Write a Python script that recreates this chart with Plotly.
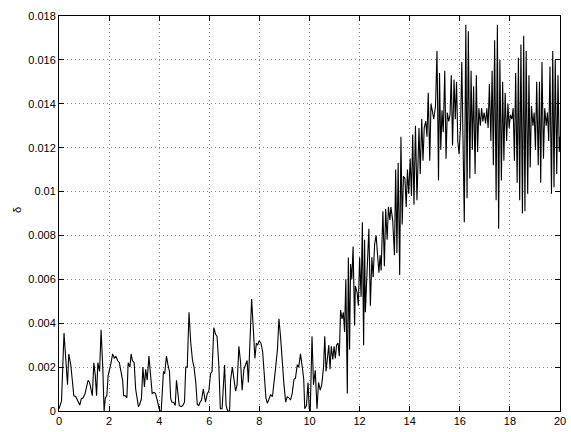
import plotly.graph_objects as go

# time axis values
t_vals = [
    0.00, 0.10, 0.20, 0.30, 0.34, 0.39, 0.47, 0.54, 0.59, 0.67, 0.74, 0.83, 0.89, 0.96,
    1.03, 1.09, 1.16, 1.22, 1.29, 1.33, 1.39, 1.45, 1.50, 1.55, 1.62, 1.68, 1.75, 1.80,
    1.85, 1.91, 1.96, 2.01, 2.08, 2.14, 2.21, 2.27, 2.34, 2.41, 2.47, 2.54, 2.58, 2.64,
    2.71, 2.76, 2.83, 2.88, 2.93, 3.00, 3.06, 3.12, 3.17, 3.22, 3.29, 3.35, 3.41, 3.46,
    3.52, 3.59, 3.66, 3.72, 3.79, 3.85, 3.92, 3.97, 4.02, 4.08, 4.12, 4.17, 4.22, 4.29,
    4.35, 4.41, 4.46, 4.51, 4.58, 4.64, 4.69, 4.75, 4.80, 4.88, 4.94, 5.01, 5.06, 5.12,
    5.19, 5.26, 5.33, 5.39, 5.46, 5.52,
    5.58, 5.63, 5.69, 5.76, 5.80, 5.85, 5.92, 5.98, 6.05, 6.11, 6.18, 6.25, 6.31, 6.38,
    6.44, 6.51, 6.57, 6.61, 6.67, 6.73, 6.81, 6.85, 6.92, 6.98, 7.05, 7.11, 7.18, 7.25,
    7.31, 7.38, 7.44, 7.51, 7.56, 7.64, 7.69, 7.76, 7.82, 7.88, 7.93, 7.99, 8.06, 8.13,
    8.19, 8.26, 8.32, 8.39, 8.45, 8.52, 8.59, 8.65, 8.72, 8.78, 8.85, 8.92, 8.98, 9.05,
    9.11, 9.18, 9.24, 9.31, 9.38, 9.44, 9.51, 9.57, 9.64, 9.70, 9.77, 9.81, 9.88, 9.94,
    9.99, 10.03, 10.10, 10.16, 10.23, 10.30, 10.36, 10.43, 10.49, 10.56, 10.61, 10.66,
    10.72, 10.77, 10.82, 10.87, 10.93, 10.98, 11.03, 11.08, 11.14, 11.19, 11.24, 11.30,
    11.35, 11.40, 11.45, 11.51, 11.55, 11.60, 11.64, 11.69, 11.74, 11.80, 11.83, 11.90,
    11.95, 12.00, 12.06, 12.11, 12.16,
    12.20, 12.23, 12.29, 12.37, 12.43, 12.49, 12.54, 12.60, 12.66, 12.73, 12.77, 12.82,
    12.86, 12.93, 12.99, 13.04, 13.10, 13.15, 13.21, 13.25, 13.32, 13.39, 13.44, 13.49,
    13.54, 13.60, 13.65, 13.70, 13.75, 13.81, 13.86, 13.91, 13.96, 14.02, 14.07, 14.12,
    14.17, 14.23,
    14.29, 14.37, 14.42, 14.48, 14.53, 14.58, 14.64, 14.69, 14.74, 14.80, 14.85, 14.90,
    14.96, 15.03, 15.09, 15.15, 15.19, 15.24, 15.29, 15.34, 15.40, 15.45, 15.50, 15.56,
    15.61, 15.66, 15.71, 15.77,
    15.82, 15.87, 15.92, 15.97, 16.03, 16.08, 16.13, 16.18, 16.24, 16.29, 16.34, 16.40,
    16.45, 16.50, 16.55, 16.61, 16.66, 16.71, 16.76, 16.82, 16.87, 16.92, 16.97, 17.03,
    17.08, 17.13, 17.18, 17.24, 17.29, 17.34, 17.39, 17.45, 17.50, 17.55, 17.60, 17.66,
    17.71, 17.76, 17.81, 17.87, 17.92, 17.97, 18.02, 18.08, 18.13, 18.18, 18.23, 18.29,
    18.34, 18.39, 18.44, 18.50, 18.55, 18.60, 18.65, 18.71, 18.76, 18.81, 18.86, 18.92,
    18.97, 19.02, 19.07, 19.13, 19.18, 19.23, 19.28, 19.34, 19.39, 19.45, 19.50, 19.55,
    19.60, 19.66, 19.71, 19.76, 19.81, 19.87, 19.92, 19.97, 20.00,
]

# delta values in units of 1e-3
delta_milli = [
    0.1, 0.45, 3.55, 1.8, 1.2, 2.6, 2.1, 1.3, 0.7, 0.65, 0.5, 0.27, 0.55, 0.6,
    0.75, 1.1, 1.4, 1.3, 0.9, 0.7, 2.2, 1.6, 0.7, 2.2, 1.8, 3.7, 1.9, 0.0,
    0.6, 0.7, 1.6, 1.8, 2.2, 2.6, 2.4, 2.5, 2.3, 2.2, 1.9, 1.4, 0.7, 0.7,
    0.6, 2.2, 2.0, 2.6, 2.3, 2.2, 1.0, 0.4, 0.2, 0.3, 0.55, 2.0, 1.1, 1.9,
    1.4, 2.5, 1.6, 0.8, 0.85, 0.8, 0.5, 0.25, 0.0, 0.0, 0.9, 1.8, 1.7, 2.5,
    2.1, 1.8, 0.55, 0.4, 0.4, 0.25, 1.4, 0.7, 0.25, 0.2, 0.25, 0.4, 2.0, 2.0,
    4.5, 3.1, 2.3, 2.0, 1.3, 0.3,
    0.25, 0.4, 0.5, 1.0, 0.7, 0.4, 0.8, 0.9, 1.7, 1.8, 3.8, 3.5, 3.4, 2.1,
    0.1, 0.1, 1.3, 2.1, 0.25, 0.0, 0.0, 1.4, 2.0, 1.4, 0.9, 1.2, 2.95, 2.2,
    0.95, 1.9, 2.1, 2.3, 1.3, 3.6, 5.1, 3.7, 2.4, 3.1, 3.0, 3.2, 3.1, 2.7,
    1.8, 0.6, 0.35, 0.6, 0.75, 0.65, 1.3, 2.0, 2.8, 4.2, 3.3, 2.1, 1.2, 0.4,
    0.65, 0.6, 0.5, 0.8, 1.45, 1.5, 2.1, 2.0, 2.6, 2.1, 1.45, 0.1, 0.25, 1.3,
    0.1, 0.0, 3.4, 1.2, 1.85, 0.1, 1.3, 0.95, 1.2, 2.0, 3.4, 1.8,
    2.7, 3.0, 1.9, 2.95, 2.35, 2.95, 2.4, 3.0, 3.1, 2.5, 4.6, 4.2,
    4.5, 3.6, 6.0, 0.8, 7.0, 2.8, 6.7, 6.0, 7.5, 3.9, 5.7, 5.4,
    4.8, 7.0, 5.2, 8.6, 3.0,
    7.8, 4.5, 6.0, 8.3, 4.8, 7.0, 6.1, 7.6, 8.0, 6.7, 6.3, 7.1,
    6.4, 9.1, 6.6, 9.2, 7.8, 9.3, 8.7, 9.3, 8.7, 7.1, 11.0, 7.2,
    11.3, 6.2, 12.5, 8.5, 10.7, 10.6, 9.3, 11.0, 9.9, 11.5, 9.8, 12.6,
    9.4, 13.0,
    9.6, 12.9, 10.8, 13.3, 11.4, 12.9, 13.2, 12.5, 14.5, 11.4, 14.0, 13.7,
    13.3, 13.9, 16.4, 10.5, 15.4, 11.9, 13.7, 12.7, 15.5, 11.5, 13.6, 13.2,
    13.5, 15.3, 12.1, 15.1,
    13.3, 15.0, 12.3, 11.7, 13.0, 15.9, 12.0, 8.6, 17.6, 9.7, 17.3, 10.6,
    15.5, 11.9, 14.8, 10.8, 15.3, 11.8, 13.8, 13.0, 13.8, 13.2, 13.6, 13.1,
    13.8, 12.9, 14.9, 12.3, 15.5, 11.2, 16.9, 9.6, 17.6, 8.3, 16.0, 10.5,
    15.0, 11.4, 14.5, 12.3, 14.0, 12.9, 13.5, 13.3, 13.8, 11.4, 15.4, 10.4,
    16.1, 9.6, 16.7, 9.0, 17.1, 9.1, 16.4, 9.9, 15.3, 11.1, 13.9, 13.0,
    13.6, 11.9, 15.0, 11.2, 15.0, 10.4, 15.9, 11.5, 13.8, 13.0, 13.6, 12.3,
    15.7, 9.9, 16.4, 10.2, 16.0, 10.8, 15.3, 11.8, 12.5,
]

delta_vals = [v * 1e-3 for v in delta_milli]

x_ticks = [0, 2, 4, 6, 8, 10, 12, 14, 16, 18, 20]
y_ticks = [0, 0.002, 0.004, 0.006, 0.008, 0.010, 0.012, 0.014, 0.016, 0.018]
y_tick_text = ["0", "0.002", "0.004", "0.006", "0.008", "0.01", "0.012", "0.014", "0.016", "0.018"]

fig = go.Figure()
fig.add_trace(go.Scatter(
    x=t_vals, y=delta_vals, mode="lines",
    line=dict(color="black", width=1.1),
    showlegend=False, hoverinfo="skip",
))

axis_common = dict(
    showline=True, linecolor="black", linewidth=1, mirror="ticks",
    ticks="inside", ticklen=5, tickwidth=1, tickcolor="black",
    showgrid=True, gridcolor="#8a8a8a", gridwidth=1, griddash="1px,3px",
    zeroline=False, tickfont=dict(size=11, color="black"),
    ticklabeloverflow="allow",
)

fig.update_xaxes(range=[0, 20], tickvals=x_ticks,
                 ticktext=[str(v) for v in x_ticks], **axis_common)
fig.update_yaxes(range=[0, 0.018], tickvals=y_ticks, ticktext=y_tick_text,
                 **axis_common)

fig.add_annotation(
    text="δ", xref="paper", yref="paper", x=-0.085, y=0.51,
    xanchor="center", yanchor="middle", textangle=-90,
    showarrow=False, font=dict(size=11, color="black"),
)

fig.update_layout(
    width=571, height=432,
    margin=dict(l=59, r=5, t=16, b=16),
    paper_bgcolor="white", plot_bgcolor="white",
    font=dict(family="Liberation Sans, Arial, sans-serif", size=11, color="black"),
)

fig.write_html("out.html")
